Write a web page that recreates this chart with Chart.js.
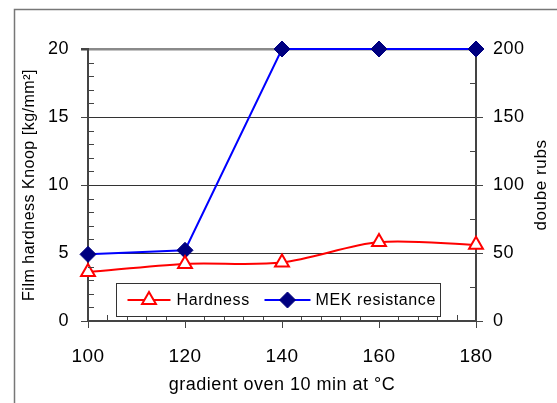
<!DOCTYPE html>
<html>
<head>
<meta charset="utf-8">
<script src="https://cdn.jsdelivr.net/npm/chart.js@4/dist/chart.umd.min.js"></script>
<style>
  html, body { margin: 0; padding: 0; background: #fff; }
  #wrap { width: 557px; height: 403px; position: relative; }
</style>
</head>
<body>
<div id="wrap"><canvas id="chart"></canvas></div>
<script>
// oven temperature (°C)
const temps = [100, 120, 140, 160, 180];
// film hardness Knoop [kg/mm²]
const hardness = [3.6, 4.2, 4.3, 5.8, 5.6];
// MEK double rubs
const mekRubs = [49, 52, 200, 200, 200];

const leftTicks = [0, 5, 10, 15, 20];
const rightTicks = [0, 50, 100, 150, 200];

const FONT = "'Liberation Sans', Arial, sans-serif";
const AXIS = "#444";

const pairs = (xs, ys) => xs.map((x, i) => ({x, y: ys[i]}));

// outer frame + minor ticks + right title + legend box
const decor = {
  id: "decor",
  beforeDraw(chart) {
    const ctx = chart.ctx;
    ctx.letterSpacing = "0.5px";
    ctx.save();
    ctx.strokeStyle = "#777";
    ctx.lineWidth = 1.5;
    ctx.beginPath();
    ctx.moveTo(14.5, chart.height);
    ctx.lineTo(14.5, 9.5);
    ctx.lineTo(chart.width, 9.5);
    ctx.stroke();
    ctx.restore();
  },
  afterDraw(chart) {
    const {ctx, chartArea: a, scales} = chart;
    ctx.save();
    ctx.strokeStyle = AXIS;
    ctx.lineWidth = 1;
    ctx.beginPath();
    for (let v = 0; v <= 20; v++) {
      if (v % 5 === 0) continue;
      const y = Math.round(scales.y.getPixelForValue(v)) + 0.5;
      ctx.moveTo(a.left, y); ctx.lineTo(a.left + 6, y);
    }
    for (let v = 25; v < 200; v += 50) {
      const y = Math.round(scales.y2.getPixelForValue(v)) + 0.5;
      ctx.moveTo(a.right, y); ctx.lineTo(a.right - 6, y);
    }
    for (let v = 100; v <= 180; v += 4) {
      if (v % 20 === 0) continue;
      const x = Math.round(scales.x.getPixelForValue(v)) + 0.5;
      ctx.moveTo(x, a.bottom); ctx.lineTo(x, a.bottom - 6);
    }
    ctx.stroke();

    // right axis title, reads bottom to top
    ctx.fillStyle = "#000";
    ctx.font = "17px " + FONT;
    ctx.letterSpacing = "0.6px";
    ctx.textAlign = "center";
    ctx.textBaseline = "middle";
    ctx.translate(541, (a.top + a.bottom) / 2);
    ctx.rotate(-Math.PI / 2);
    ctx.fillText("doube rubs", 0, 0);
    ctx.restore();

    // legend inside plot area
    const bx = a.left + 28.5, bw = 324, bh = 33;
    const by = a.bottom - 5 - bh + 0.5;
    ctx.save();
    ctx.fillStyle = "#fff";
    ctx.fillRect(bx, by, bw, bh);
    ctx.strokeStyle = "#333";
    ctx.lineWidth = 1;
    ctx.strokeRect(bx, by, bw, bh);
    const cy = by + bh / 2;
    const items = [
      {ds: chart.data.datasets[0], x0: bx + 11, x1: bx + 54, tx: bx + 60},
      {ds: chart.data.datasets[1], x0: bx + 148, x1: bx + 194, tx: bx + 199},
    ];
    ctx.font = "16px " + FONT;
    ctx.letterSpacing = "0.6px";
    ctx.textBaseline = "middle";
    ctx.textAlign = "left";
    items.forEach(it => {
      ctx.strokeStyle = it.ds.borderColor;
      ctx.lineWidth = 2;
      ctx.beginPath();
      ctx.moveTo(it.x0, cy); ctx.lineTo(it.x1, cy);
      ctx.stroke();
      ctx.fillStyle = it.ds.pointBackgroundColor;
      ctx.strokeStyle = it.ds.pointBorderColor;
      ctx.lineWidth = it.ds.pointBorderWidth;
      ctx.beginPath();
      Chart.helpers.drawPoint(ctx, {
        pointStyle: it.ds.pointStyle,
        radius: it.ds.pointRadius,
        rotation: 0,
        borderWidth: it.ds.pointBorderWidth,
      }, (it.x0 + it.x1) / 2, cy);
      ctx.fillStyle = "#000";
      ctx.fillText(it.ds.label, it.tx, cy + 1);
    });
    ctx.restore();
  },
};

new Chart(document.getElementById("chart"), {
  type: "line",
  data: {
    datasets: [
      {
        label: "Hardness",
        data: pairs(temps, hardness),
        yAxisID: "y",
        borderColor: "#ff0000",
        borderWidth: 2,
        tension: 0.3,
        pointStyle: "triangle",
        pointRadius: 8,
        pointBorderWidth: 2,
        pointBackgroundColor: "#ffffff",
        pointBorderColor: "#ff0000",
        clip: false,
      },
      {
        label: "MEK resistance",
        data: pairs(temps, mekRubs),
        yAxisID: "y2",
        borderColor: "#0000ff",
        borderWidth: 2,
        tension: 0,
        pointStyle: "rectRot",
        pointRadius: 8,
        pointBorderWidth: 1,
        pointBackgroundColor: "#000080",
        pointBorderColor: "#000080",
        clip: false,
      },
    ],
  },
  options: {
    responsive: true,
    maintainAspectRatio: false,
    animation: false,
    layout: {padding: {top: 49, left: 0, right: 0, bottom: 0}},
    plugins: {legend: {display: false}, tooltip: {enabled: false}},
    scales: {
      x: {
        type: "linear",
        min: temps[0],
        max: temps[temps.length - 1],
        afterBuildTicks: s => { s.ticks = temps.map(v => ({value: v})); },
        afterFit: s => { s.height = 82; },
        border: {color: AXIS, width: 2},
        grid: {drawOnChartArea: false, tickLength: 7, color: AXIS},
        ticks: {color: "#000", font: {family: FONT, size: 19}, padding: 17, maxRotation: 0},
        title: {
          display: true,
          text: "gradient oven 10 min at °C",
          color: "#000",
          font: {family: FONT, size: 18},
          padding: {top: 0, bottom: 7},
        },
      },
      y: {
        position: "left",
        min: 0,
        max: 20,
        afterBuildTicks: s => { s.ticks = leftTicks.map(v => ({value: v})); },
        afterFit: s => { s.width = 88; },
        border: {color: AXIS, width: 2},
        grid: {
          tickLength: 7,
          tickColor: AXIS,
          color: c => (c.tick.value === 20 ? "#8a8a8a" : c.tick.value === 0 ? "rgba(0,0,0,0)" : "#333"),
          lineWidth: c => (c.tick.value === 20 ? 2.5 : 1),
        },
        ticks: {color: "#000", font: {family: FONT, size: 18}, padding: 12},
        title: {
          display: true,
          text: "Film hardness Knoop [kg/mm²]",
          color: "#000",
          font: {family: FONT, size: 16},
          padding: {top: 20, bottom: 0},
        },
      },
      y2: {
        position: "right",
        min: 0,
        max: 200,
        afterBuildTicks: s => { s.ticks = rightTicks.map(v => ({value: v})); },
        afterFit: s => { s.width = 81; },
        border: {color: AXIS, width: 2},
        grid: {drawOnChartArea: false, tickLength: 7, color: AXIS},
        ticks: {color: "#000", font: {family: FONT, size: 18}, padding: 10},
      },
    },
  },
  plugins: [decor],
});
</script>
</body>
</html>
